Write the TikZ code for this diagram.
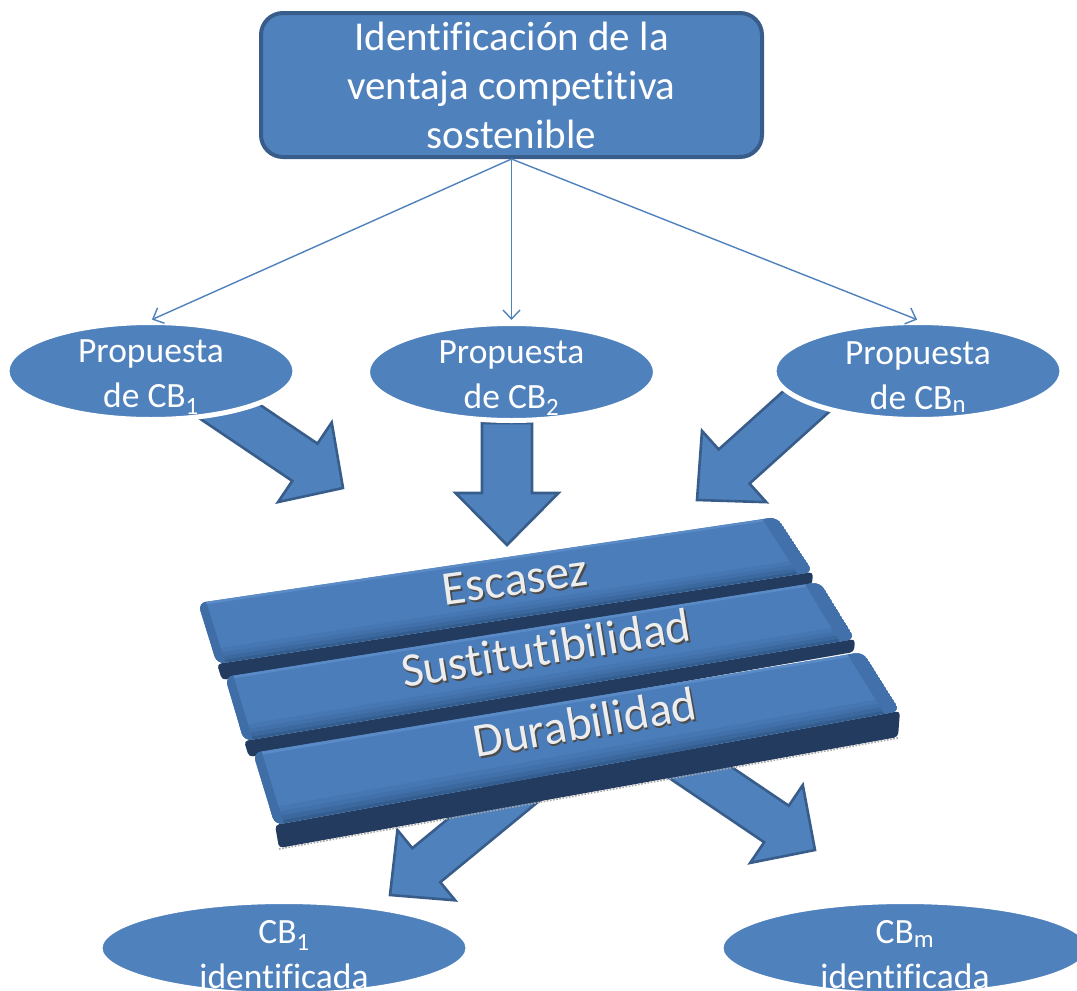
\documentclass[tikz,border=0pt]{standalone}
\usepackage{fontspec}
\setmainfont{Carlito}[Ligatures={NoCommon}]
\usetikzlibrary{calc,shapes.geometric,arrows.meta}

\definecolor{accent}{HTML}{4F81BD}
\definecolor{accentdark}{HTML}{385D8A}
\definecolor{slabtop}{HTML}{4A7DBA}
\definecolor{slabfront}{HTML}{223B5E}
\definecolor{slabrim}{HTML}{5A8BC6}
\definecolor{slabend}{HTML}{3F6DA5}
\definecolor{slabbA}{HTML}{4677B3}
\definecolor{slabbB}{HTML}{4170AA}
\definecolor{slabbC}{HTML}{3B689E}
\definecolor{slabbD}{HTML}{345E90}

\tikzset{
  thinlink/.style={draw=accent, line width=1.4pt,
    -{Straight Barb[length=9pt,width=17pt]}, shorten >=1pt},
  fatarrow/.style={fill=accent, draw=accentdark, line width=2.6pt, line join=miter},
  bubble/.style={ellipse, fill=accent, draw=white, line width=5pt, inner sep=0pt},
  bubbletext/.style={text=white, align=center, inner sep=0pt,
    font=\fontsize{35.5pt}{45pt}\selectfont},
  titlebox/.style={rectangle, rounded corners=22pt, fill=accent, draw=accentdark,
    line width=4pt, minimum width=501pt, minimum height=144pt, inner sep=0pt,
    text=white, align=center, font=\fontsize{41pt}{49pt}\selectfont},
  slablabel/.style={inner sep=0pt, font=\fontsize{48pt}{48pt}\selectfont},
}

% block arrow: #1 start, #2 tip, #3 half shaft width, #4 half head width, #5 head length
\newcommand{\blockarrow}[5]{%
  \coordinate (bah) at ($(#2)!#5!(#1)$);
  \draw[fatarrow]
    ($(#1)!#3!90:(#2)$) -- ($(bah)!#3!90:(#2)$) -- ($(bah)!#4!90:(#2)$) -- (#2)
    -- ($(bah)!#4!-90:(#2)$) -- ($(bah)!#3!-90:(#2)$) -- ($(#1)!#3!-90:(#2)$) -- cycle;
}

% bevelled slab from the coordinates #1-tl, #1-tr, #1-br, #1-bl, #1-fl, #1-fr
\newcommand{\slab}[1]{%
  \fill[slabfront, rounded corners=4pt] (#1-bl) -- (#1-br) -- (#1-fr) -- (#1-fl) -- cycle;
  \begin{scope}
    \clip[rounded corners=8pt] (#1-tl) -- (#1-tr) -- (#1-br) -- (#1-bl) -- cycle;
    \fill[slabtop] (#1-tl) -- (#1-tr) -- (#1-br) -- (#1-bl) -- cycle;
    \foreach \a/\b/\c in {0.24/0.17/slabbA, 0.17/0.11/slabbB, 0.11/0.05/slabbC, 0.05/0/slabbD}
      \fill[\c] ($(#1-bl)!\a!(#1-tl)$) -- ($(#1-br)!\a!(#1-tr)$)
        -- ($(#1-br)!\b!(#1-tr)$) -- ($(#1-bl)!\b!(#1-tl)$) -- cycle;
    \fill[slabrim] ($(#1-bl)!0.96!(#1-tl)$) -- ($(#1-br)!0.96!(#1-tr)$)
      -- (#1-tr) -- (#1-tl) -- cycle;
    \fill[slabend] (#1-tl) -- ($(#1-tl)!0.014!(#1-tr)$)
      -- ($(#1-bl)!0.014!(#1-br)$) -- (#1-bl) -- cycle;
    \fill[slabbB] ($(#1-tr)!0.025!(#1-tl)$) -- (#1-tr)
      -- (#1-br) -- ($(#1-br)!0.025!(#1-bl)$) -- cycle;
  \end{scope}
}

\begin{document}
\begin{tikzpicture}[x=1pt,y=-1pt]
\useasboundingbox (0,0) rectangle (1077,991);
\clip (0,0) rectangle (1077,991);

% block arrows from the proposals down to the filter
\coordinate (a1s) at (177,376);   \coordinate (a1t) at (343,488);
\coordinate (a2s) at (507,423);   \coordinate (a2t) at (507,545);
\coordinate (a3s) at (845.6,366); \coordinate (a3t) at (697,500);
\blockarrow{a1s}{a1t}{22.5pt}{48pt}{46pt}
\blockarrow{a2s}{a2t}{25pt}{51.5pt}{52pt}
\blockarrow{a3s}{a3t}{23pt}{48pt}{50pt}

% block arrows leaving the filter
\coordinate (b1s) at (544.6,768); \coordinate (b1t) at (390,895);
\coordinate (b2s) at (633,727);   \coordinate (b2t) at (815,850);
\blockarrow{b1s}{b1t}{22pt}{45.5pt}{47pt}
\blockarrow{b2s}{b2t}{22pt}{47pt}{46.5pt}

% the three criteria slabs
\coordinate (s1-tl) at (198,603); \coordinate (s1-tr) at (777,517);
\coordinate (s1-br) at (813,572); \coordinate (s1-bl) at (217,664);
\coordinate (s1-fl) at (222,680); \coordinate (s1-fr) at (812,585);
\coordinate (s2-tl) at (225,677); \coordinate (s2-tr) at (820,582);
\coordinate (s2-br) at (855,639); \coordinate (s2-bl) at (244,741);
\coordinate (s2-fl) at (249,757); \coordinate (s2-fr) at (854,652);
\coordinate (s3-tl) at (253,753); \coordinate (s3-tr) at (863,652);
\coordinate (s3-br) at (900,711); \coordinate (s3-bl) at (275,825);
\coordinate (s3-fl) at (279,848); \coordinate (s3-fr) at (898,737);
\slab{s1}
\slab{s2}
\slab{s3}
\draw[gray!70, line width=1.6pt, dash pattern=on 1.6pt off 1.6pt]
  ($(s3-fl)+(0,1)$) -- ($(s3-fr)+(0,1)$);

% slab captions with a soft shadow
\node[slablabel, text=gray!60!black, rotate=7.8] (l1s) at (516.5,582) {Escasez};
\node[slablabel, text=white!93!black, rotate=7.8] (l1) at (515,580) {Escasez};
\node[slablabel, text=gray!60!black, rotate=9.3] (l2s) at (547.5,650) {Sustitutibilidad};
\node[slablabel, text=white!93!black, rotate=9.3] (l2) at (546,648) {Sustitutibilidad};
\node[slablabel, text=gray!60!black, rotate=10] (l3s) at (586.5,724) {Durabilidad};
\node[slablabel, text=white!93!black, rotate=10] (l3) at (585,722) {Durabilidad};

% goal box
\node[titlebox] (goal) at (511.5,85) {Identificación de la\\ventaja competitiva\\sostenible};

% proposals
\node[bubble, minimum width=288pt, minimum height=97pt] (p1) at (151,371) {};
\node[bubble, minimum width=288pt, minimum height=97pt] (p2) at (511.5,372) {};
\node[bubble, minimum width=288pt, minimum height=97pt] (p3) at (918,371) {};
\node[bubbletext] (p1t) at ($(p1.center)+(0,6)$) {Propuesta\\de CB\textsubscript{1}};
\node[bubbletext] (p2t) at ($(p2.center)+(0,6)$) {Propuesta\\de CB\textsubscript{2}};
\node[bubbletext] (p3t) at ($(p3.center)+(0,6)$) {Propuesta\\de CB\textsubscript{n}};

% identified results
\node[bubble, minimum width=368pt, minimum height=93pt] (r1) at (284,948) {};
\node[bubble, minimum width=368pt, minimum height=93pt] (r2) at (905,948) {};
\node[bubbletext] (r1t) at ($(r1.center)+(0,6.5)$) {CB\textsubscript{1}\\identificada};
\node[bubbletext] (r2t) at ($(r2.center)+(0,6.5)$) {CB\textsubscript{m}\\identificada};

% links from the goal to each proposal
\draw[thinlink] (goal.south) -- (p1.north);
\draw[thinlink] (goal.south) -- (p2.north);
\draw[thinlink] (goal.south) -- (p3.north);
\end{tikzpicture}
\end{document}
